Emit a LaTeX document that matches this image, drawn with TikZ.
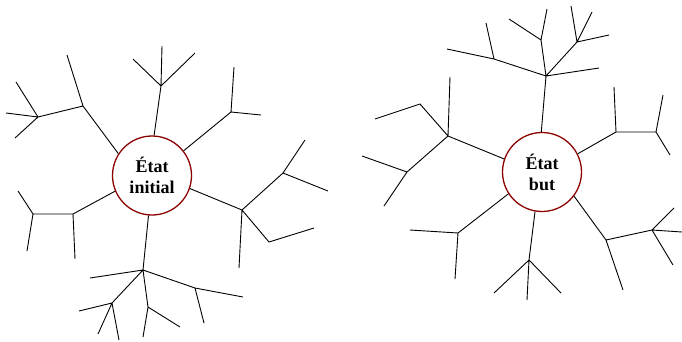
\documentclass[tikz,border=0pt]{standalone}
\usepackage{fontspec}
\setmainfont{Liberation Serif}
\begin{document}
\begin{tikzpicture}[x=1pt,y=-1pt,
  etat/.style={circle,draw=red!55!black,line width=1.3pt,minimum size=79pt,inner sep=0pt,
    align=center,font=\fontsize{18}{21}\selectfont\bfseries},
  br/.style={line width=0.9pt,black}]
\useasboundingbox (0,0) rectangle (682,341);
% ---------- left tree ----------
\node[etat] (L) at (152,175.5) {État\\initial};
\coordinate (A) at (83,106); \coordinate (A1) at (67,55);
\coordinate (B) at (38,117); \coordinate (B1) at (16,82); \coordinate (B2) at (6,113); \coordinate (B3) at (15,138);
\coordinate (C) at (161,86); \coordinate (C1) at (133,59); \coordinate (C2) at (162,46); \coordinate (C3) at (195,53);
\coordinate (D) at (231,112); \coordinate (D1) at (234,67); \coordinate (D2) at (261,115);
\coordinate (K) at (242,210); \coordinate (K1) at (239,268);
\coordinate (Lb) at (283,173); \coordinate (Lb1) at (305,140); \coordinate (Lb2) at (328,191);
\coordinate (M) at (269,242); \coordinate (M1) at (314,228);
\coordinate (G) at (143,270); \coordinate (G1) at (90,278);
\coordinate (H) at (112,303); \coordinate (H1) at (79,311); \coordinate (H2) at (98,334); \coordinate (H3) at (119,340);
\coordinate (I) at (148,307); \coordinate (I1) at (143,337); \coordinate (I2) at (180,327);
\coordinate (J) at (195,288); \coordinate (J1) at (243,297); \coordinate (J2) at (204,323);
\coordinate (E) at (73,214); \coordinate (E1) at (75,259);
\coordinate (F) at (33,214); \coordinate (F1) at (18,191); \coordinate (F2) at (27,251);
\draw[br] (L.147) -- (A) -- (A1) (A) -- (B) -- (B1) (B) -- (B2) (B) -- (B3);
\draw[br] (L.87) -- (C) -- (C1) (C) -- (C2) (C) -- (C3);
\draw[br] (L.38) -- (D) -- (D1) (D) -- (D2);
\draw[br] (L.-19) -- (K) -- (K1) (K) -- (Lb) -- (Lb1) (Lb) -- (Lb2) (K) -- (M) -- (M1);
\draw[br] (L.-95) -- (G) -- (G1) (G) -- (H) -- (H1) (H) -- (H2) (H) -- (H3)
  (G) -- (I) -- (I1) (I) -- (I2) (G) -- (J) -- (J1) (J) -- (J2);
\draw[br] (L.-157) -- (E) -- (E1) (E) -- (F) -- (F1) (F) -- (F2);
% ---------- right tree ----------
\node[etat] (R) at (542,172) {État\\but};
\coordinate (N) at (448,136); \coordinate (N1) at (450,77);
\coordinate (O) at (420,104); \coordinate (O1) at (375,119);
\coordinate (P) at (407,172); \coordinate (P1) at (362,156); \coordinate (P2) at (384,206);
\coordinate (Q) at (458,233); \coordinate (Q1) at (410,230); \coordinate (Q2) at (455,279);
\coordinate (Rr) at (529,260); \coordinate (Rr1) at (494,293); \coordinate (Rr2) at (527,300); \coordinate (Rr3) at (561,293);
\coordinate (S) at (546,76);
\coordinate (T) at (494,59); \coordinate (T1) at (486,23); \coordinate (T2) at (447,49);
\coordinate (U) at (541,40); \coordinate (U1) at (547,9); \coordinate (U2) at (509,19);
\coordinate (V) at (577,42); \coordinate (V1) at (571,6); \coordinate (V2) at (592,12); \coordinate (V3) at (609,35);
\coordinate (S1) at (599,68);
\coordinate (W) at (616,132); \coordinate (W1) at (614,87);
\coordinate (X) at (656,132); \coordinate (X1) at (663,95); \coordinate (X2) at (670,155);
\coordinate (Y) at (606,240); \coordinate (Y1) at (623,290);
\coordinate (Z) at (652,230); \coordinate (Z1) at (674,208); \coordinate (Z2) at (682,232); \coordinate (Z3) at (673,265);
\draw[br] (R.161.6) -- (N) -- (N1) (N) -- (O) -- (O1) (N) -- (P) -- (P1) (P) -- (P2);
\draw[br] (R.-147) -- (Q) -- (Q1) (Q) -- (Q2);
\draw[br] (R.-100) -- (Rr) -- (Rr1) (Rr) -- (Rr2) (Rr) -- (Rr3);
\draw[br] (R.91.5) -- (S) -- (T) -- (T1) (T) -- (T2) (S) -- (U) -- (U1) (U) -- (U2)
  (S) -- (V) -- (V1) (V) -- (V2) (V) -- (V3) (S) -- (S1);
\draw[br] (R.27) -- (W) -- (W1) (W) -- (X) -- (X1) (X) -- (X2);
\draw[br] (R.-37) -- (Y) -- (Y1) (Y) -- (Z) -- (Z1) (Z) -- (Z2) (Z) -- (Z3);
\end{tikzpicture}
\end{document}
